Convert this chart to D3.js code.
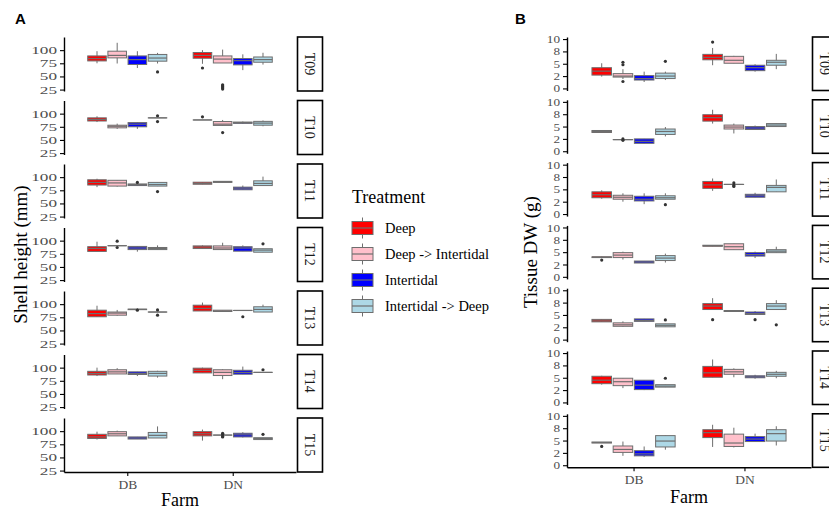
<!DOCTYPE html>
<html><head><meta charset="utf-8">
<script src="https://cdn.jsdelivr.net/npm/d3@7"></script>
<style>body{margin:0;background:#fff}svg{display:block}</style>
</head><body>
<svg id="c" width="829" height="510"></svg>
<script>
// ---------- data ----------
const farms = ["DB", "DN"];
const treatments = ["Deep", "Deep -> Intertidal", "Intertidal", "Intertidal -> Deep"];
const treatmentColors = ["#FF0000", "#FFC0CB", "#0000FF", "#ADD8E6"];
const times = ["T09", "T10", "T11", "T12", "T13", "T14", "T15"];

// each box: [whiskerLow, q1, median, q3, whiskerHigh, ...outliers]; per time: [DB boxes, DN boxes]
const shellT09 = [[[75, 79.5, 84, 89, 98], [74.6, 85.3, 90, 98, 114], [66, 72.7, 82, 89, 98], [74.6, 79, 85, 91.8, 94.8, 58.6]],
                  [[74, 84.6, 90, 95.5, 100, 66], [75.6, 75.6, 83, 89, 101, 34, 32, 30, 28, 26], [62, 72, 80, 84, 92], [72.5, 77, 82, 87, 95]]];
const shellT10 = [[[84, 86, 89, 92, 95], [71, 73, 76, 78, 81], [71, 75, 80, 83, 84], [92, 92, 92, 92, 92, 96, 85]],
                  [[88, 88, 88, 88, 88, 94], [77, 77.6, 80, 85, 88, 64], [80.5, 81.5, 83, 84, 85], [76, 78, 82, 85.3, 87]]];
const shellT11 = [[[81, 85, 90, 95, 97], [82, 83, 89, 94, 94], [84, 84, 86, 87, 87.5, 90], [83, 83, 86, 90, 90, 72.5]],
                  [[86.5, 86.5, 88, 90.4, 90.4], [90, 90, 91, 92, 92], [76, 76, 79, 81, 84], [84, 84, 88, 93, 101]]];
const shellT12 = [[[79.5, 79.5, 85, 88.5, 98], [90.4, 90.4, 90.4, 90.4, 90.4, 99, 87], [79, 83, 86, 89, 89], [83, 83, 85, 87, 91]],
                  [[85, 85, 88, 90, 91], [83, 83, 86, 90, 96], [80, 80, 86, 88.5, 91], [78, 78, 82, 84.6, 84.6, 94]]];
const shellT13 = [[[76, 76, 82, 88.5, 97], [78, 79, 83, 85, 89], [89, 89.5, 90, 90.5, 92, 88.5], [85, 85, 85, 85, 85, 89, 79]],
                  [[87, 87, 92, 98, 103], [86, 86, 87, 88.5, 88.5], [88, 88, 88, 88, 88, 76], [85, 85, 90, 95, 99]]];
const shellT14 = [[[84, 86, 89, 93, 100], [88, 88, 92, 96, 99], [84, 87, 89, 92, 92], [81, 84, 89, 93, 94]],
                  [[90, 90, 95, 99, 100], [78, 85, 91, 96, 97], [87.5, 87.5, 91, 95, 102], [91, 91, 91, 91, 91, 96]]];
const shellT15 = [[[84, 86, 89, 94, 99], [91, 91, 95, 99, 101], [85, 85, 87, 89, 89], [87, 87, 92, 97.5, 109]],
                  [[82, 91, 95, 99, 103], [92.5, 92.5, 92.5, 92.5, 92.5, 96, 94, 90, 89], [88, 89, 93, 96, 98], [84, 84, 86, 87.5, 87.5, 94]]];

const tissueT09 = [[[2.4, 2.7, 3.5, 4.2, 5.1], [1.9, 2.3, 2.5, 3.0, 3.9, 5.3, 4.8, 1.4], [1.3, 1.7, 2.0, 2.6, 3.4], [1.7, 2.0, 2.5, 3.1, 3.4, 5.5]],
                   [[4.7, 5.8, 6.3, 6.9, 8.2, 9.4], [5.1, 5.1, 5.7, 6.5, 6.6], [3.4, 3.6, 4.2, 4.7, 4.9], [3.9, 4.7, 5.3, 5.7, 7.0]]];
const tissueT10 = [[[3.8, 3.8, 4.0, 4.2, 4.2], [2.35, 2.35, 2.35, 2.35, 2.35, 2.5, 2.2], [1.6, 1.6, 2.0, 2.5, 2.5], [3.0, 3.4, 4.0, 4.5, 4.9]],
                   [[5.6, 6.1, 6.8, 7.4, 8.4], [3.6, 4.5, 4.9, 5.3, 5.6], [4.4, 4.4, 4.7, 5.0, 5.2], [5.0, 5.0, 5.3, 5.6, 5.6]]];
const tissueT11 = [[[3.1, 3.3, 3.9, 4.5, 4.8], [2.5, 3.0, 3.4, 3.8, 4.2], [2.0, 2.65, 3.0, 3.6, 4.2], [3.0, 3.0, 3.3, 3.7, 4.2, 1.9]],
                   [[4.7, 5.2, 5.9, 6.6, 7.2], [6.0, 6.0, 6.0, 6.0, 6.0, 6.3, 5.8, 5.6], [3.4, 3.4, 3.7, 4.0, 4.3], [4.5, 4.5, 5.4, 5.8, 7.0]]];
const tissueT12 = [[[3.9, 3.9, 4.0, 4.05, 4.1, 3.4], [3.5, 3.9, 4.4, 4.9, 5.1], [2.8, 2.8, 3.0, 3.2, 3.2], [2.9, 3.3, 3.8, 4.3, 4.7]],
                   [[6.2, 6.2, 6.3, 6.4, 6.4], [5.5, 5.5, 6.1, 6.7, 6.7], [3.8, 4.2, 4.5, 4.9, 5.1], [4.9, 4.9, 5.2, 5.5, 6.1]]];
const tissueT13 = [[[3.6, 3.6, 3.8, 4.1, 4.1], [2.6, 2.7, 3.0, 3.4, 3.7], [3.7, 3.7, 3.9, 4.2, 4.2], [2.6, 2.6, 2.9, 3.2, 3.2, 4.0]],
                   [[6.1, 6.1, 6.8, 7.3, 8.4, 4.05], [5.7, 5.7, 5.8, 5.9, 5.9], [5.1, 5.1, 5.3, 5.6, 5.8, 4.05], [6.1, 6.1, 6.8, 7.3, 8.0, 3.0]]];
const tissueT14 = [[[3.6, 3.8, 4.5, 5.3, 5.4], [2.9, 3.4, 4.2, 4.9, 4.9], [2.5, 2.6, 3.5, 4.5, 4.5], [3.1, 3.1, 3.3, 3.6, 3.6, 4.9]],
                   [[5.1, 5.1, 6.0, 7.3, 8.7], [5.1, 5.7, 6.2, 6.7, 6.9], [4.8, 5.0, 5.2, 5.4, 5.6], [4.9, 5.3, 5.7, 6.1, 6.4]]];
const tissueT15 = [[[4.5, 4.5, 4.6, 4.7, 4.7, 3.8], [1.9, 2.6, 3.2, 3.9, 4.8], [1.7, 1.9, 2.3, 2.95, 3.8], [3.15, 3.7, 4.9, 6.0, 6.0]],
                   [[3.7, 5.6, 6.6, 7.2, 8.2], [3.6, 3.8, 4.5, 6.3, 7.6], [4.8, 4.8, 5.3, 5.8, 6.4], [4.0, 4.9, 6.4, 7.2, 7.9]]];

const shellTicks = [25, 50, 75, 100];
const shellTickLabels = ["25", "50", "75", "100"];
const tissueTicks = [0, 2.5, 5, 7.5, 10];
const tissueTickLabels = ["0", "2", "5", "8", "10"];

const shellData = [shellT09, shellT10, shellT11, shellT12, shellT13, shellT14, shellT15];
const tissueData = [tissueT09, tissueT10, tissueT11, tissueT12, tissueT13, tissueT14, tissueT15];

// ---------- drawing ----------
const svg = d3.select("#c");
const SERIF = "'Liberation Serif', 'Times New Roman', serif";
const GREY_TXT = "#4d4d4d";
const OUTLINE = "#6e6e6e";

function drawPanel(cfg) {
  const g = svg.append("g");
  const x = d3.scalePoint().domain(farms).range([cfg.left, cfg.right]).padding(0.6);
  const step = x.step();
  const dodge = d3.scaleBand().domain(treatments).range([-0.375 * step, 0.375 * step]).paddingInner(0.08);

  times.forEach((t, ti) => {
    const top = cfg.top + ti * cfg.rowStep;
    const y = d3.scaleLinear().domain(cfg.domain).range([top + cfg.h, top]);

    const ax = g.append("g").attr("transform", `translate(${cfg.left},0)`)
      .call(d3.axisLeft(y).tickValues(cfg.ticks).tickFormat((d, i) => cfg.tickLabels[i]).tickSize(4).tickSizeOuter(0).tickPadding(3));
    ax.select(".domain").attr("stroke", "#000").attr("stroke-width", 1.4);
    ax.selectAll(".tick line").attr("stroke", "#000").attr("stroke-width", 1.1);
    ax.selectAll(".tick text").attr("font-family", SERIF).attr("font-size", 11).attr("fill", GREY_TXT)
      .each(function () { const s = this.textContent; d3.select(this).attr("textLength", s.length * cfg.charW).attr("lengthAdjust", "spacingAndGlyphs"); });

    g.append("rect").attr("x", cfg.right + 1.5).attr("y", top).attr("width", 25).attr("height", cfg.h)
      .attr("fill", "#fff").attr("stroke", "#000").attr("stroke-width", 1.6);
    g.append("text").attr("transform", `translate(${cfg.right + 14},${top + cfg.h / 2}) rotate(90)`)
      .attr("text-anchor", "middle").attr("dy", "0.35em").attr("font-family", SERIF).attr("font-size", 14)
      .attr("fill", "#1a1a1a").text(t);

    farms.forEach((f, fi) => {
      cfg.data[ti][fi].forEach((b, k) => {
        const cx = x(f) + dodge(treatments[k]) + dodge.bandwidth() / 2;
        const bw = dodge.bandwidth();
        const [lo, q1, med, q3, hi] = b;
        const outs = b.slice(5);
        const bg = g.append("g");
        bg.append("line").attr("x1", cx).attr("x2", cx).attr("y1", y(hi)).attr("y2", y(lo))
          .attr("stroke", OUTLINE).attr("stroke-width", 1);
        bg.append("rect").attr("x", cx - bw / 2).attr("width", bw)
          .attr("y", y(q3)).attr("height", Math.max(0.01, y(q1) - y(q3)))
          .attr("fill", treatmentColors[k]).attr("stroke", OUTLINE).attr("stroke-width", 1);
        bg.append("line").attr("x1", cx - bw / 2).attr("x2", cx + bw / 2).attr("y1", y(med)).attr("y2", y(med))
          .attr("stroke", OUTLINE).attr("stroke-width", 1.2);
        outs.forEach(o => bg.append("circle").attr("cx", cx).attr("cy", y(o)).attr("r", 1.6).attr("fill", "#333"));
      });
    });

    if (ti === times.length - 1) {
      const xa = g.append("g").attr("transform", `translate(0,${top + cfg.h})`)
        .call(d3.axisBottom(x).tickSize(4).tickSizeOuter(0).tickPadding(3));
      xa.select(".domain").attr("stroke", "#000").attr("stroke-width", 1.6);
      xa.selectAll(".tick line").attr("stroke", "#000").attr("stroke-width", 1.1);
      xa.selectAll(".tick text").attr("font-family", SERIF).attr("font-size", 13.5).attr("fill", GREY_TXT);
    }
  });

  const bottom = cfg.top + (times.length - 1) * cfg.rowStep + cfg.h;
  g.append("text").attr("x", (cfg.left + cfg.right) / 2).attr("y", cfg.xTitleY).attr("text-anchor", "middle")
    .attr("font-family", SERIF).attr("font-size", 18).attr("fill", "#000").text("Farm");
  g.append("text").attr("transform", `translate(${cfg.yTitleX},${(cfg.top + bottom) / 2}) rotate(-90)`)
    .attr("text-anchor", "middle").attr("font-family", SERIF).attr("font-size", 19).attr("fill", "#000").text(cfg.yTitle);
  g.append("text").attr("x", cfg.letterX).attr("y", 24).attr("font-family", "'Liberation Sans', Arial, sans-serif")
    .attr("font-weight", "bold").attr("font-size", 15).attr("fill", "#000").text(cfg.letter);
}

drawPanel({ left: 64, right: 296, top: 37, h: 54, rowStep: 63.5, domain: [22.3, 125], ticks: shellTicks,
  tickLabels: shellTickLabels, data: shellData, charW: 8.6, xTitleY: 506, yTitleX: 27, yTitle: "Shell height (mm)",
  letter: "A", letterX: 15 });
drawPanel({ left: 567, right: 811, top: 37, h: 53.5, rowStep: 62.8, domain: [-0.42, 10.42], ticks: tissueTicks,
  tickLabels: tissueTickLabels, data: tissueData, charW: 6.6, xTitleY: 503, yTitleX: 537, yTitle: "Tissue DW (g)",
  letter: "B", letterX: 515 });

const lg = svg.append("g");
lg.append("text").attr("x", 352).attr("y", 203).attr("font-family", SERIF).attr("font-size", 18).attr("fill", "#000").text("Treatment");
treatments.forEach((tr, i) => {
  const cy = 228 + i * 26;
  lg.append("line").attr("x1", 362.5).attr("x2", 362.5).attr("y1", cy - 10.5).attr("y2", cy + 10.5).attr("stroke", OUTLINE);
  lg.append("rect").attr("x", 352).attr("y", cy - 6.5).attr("width", 21).attr("height", 13)
    .attr("fill", treatmentColors[i]).attr("stroke", OUTLINE).attr("stroke-width", 1);
  lg.append("line").attr("x1", 352).attr("x2", 373).attr("y1", cy).attr("y2", cy).attr("stroke", OUTLINE).attr("stroke-width", 1.2);
  lg.append("text").attr("x", 385).attr("y", cy + 5).attr("font-family", SERIF).attr("font-size", 14.5).attr("fill", "#000").text(tr);
});
</script>
</body></html>
